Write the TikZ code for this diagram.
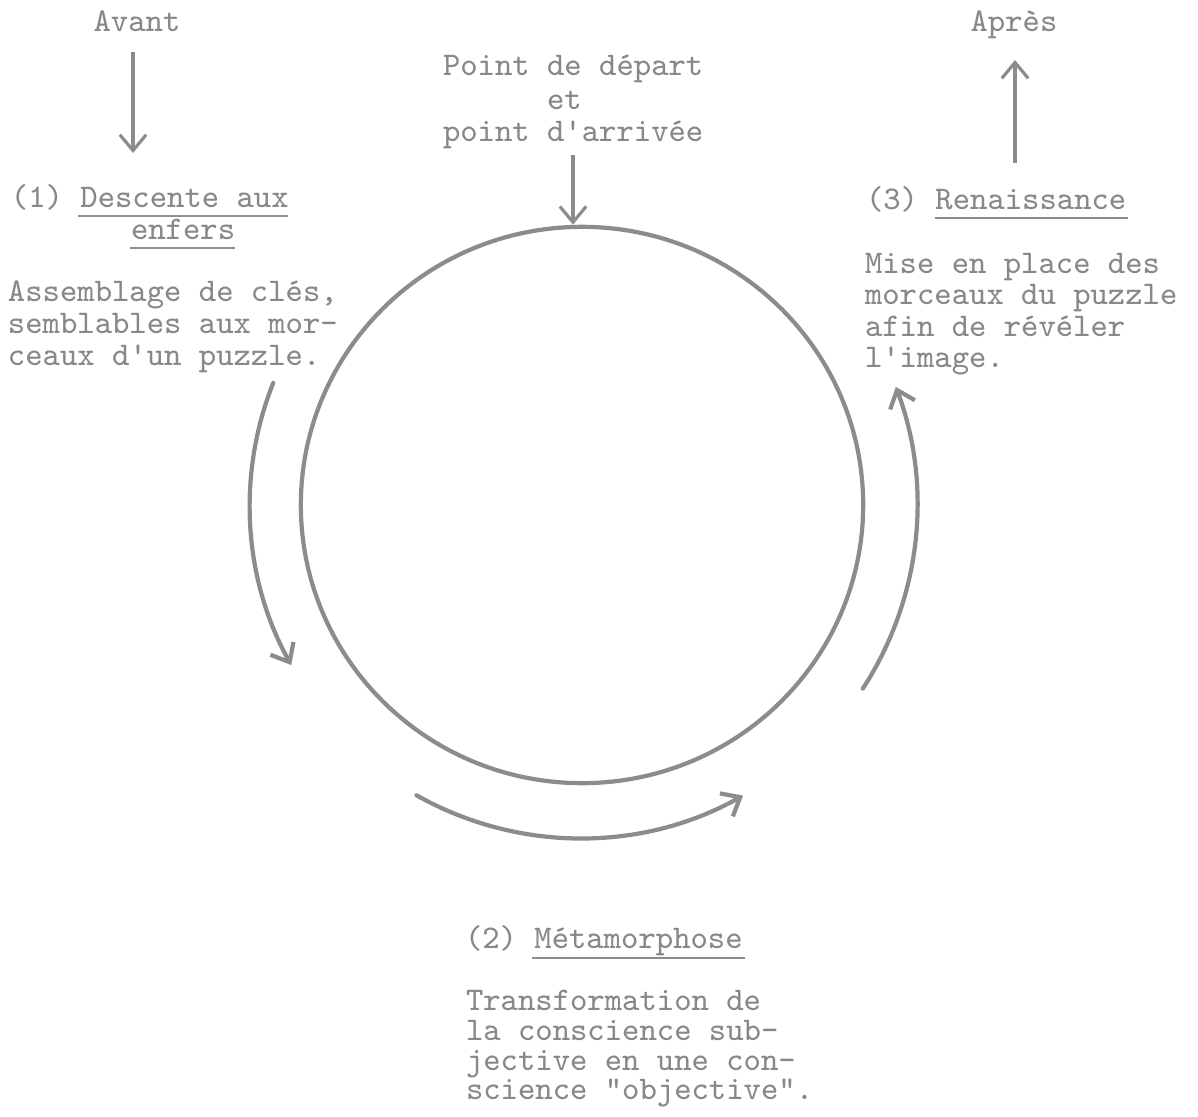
\documentclass[tikz,border=0pt]{standalone}
\usetikzlibrary{arrows.meta,shapes.geometric}
\definecolor{textgray}{HTML}{888888}
\definecolor{linegray}{HTML}{8C8C8C}
\begin{document}
\begin{tikzpicture}[x=0.01cm,y=-0.01cm,
  txt/.style={inner sep=0pt, outer sep=0pt, text=textgray, anchor=base west,
    font=\fontsize{9.4}{11}\selectfont\ttfamily},
  ctxt/.style={txt, anchor=base},
  uline/.style={draw=linegray, line width=0.6pt},
  straightarrow/.style={draw=linegray, line width=0.9pt, -{Straight Barb[length=4.5pt,width=7.5pt]}},
  arcarrow/.style={draw=linegray, line width=1.2pt, line cap=round, -{Straight Barb[length=4.5pt,width=7.5pt]}},
  ring/.style={draw=linegray, line width=1.2pt, ellipse, inner sep=0pt, minimum width=5.62cm, minimum height=5.56cm}
]
\useasboundingbox (0,0) rectangle (1198,1116);

% central circle
\coordinate (cc) at (580,505);
\node[ring] (circ) at (582,505) {};

% top labels
\node[ctxt] (avant) at (137,32) {Avant};
\node[ctxt] (apres) at (1014,32) {Apr\`es};
\coordinate (avantA) at (133,52);
\coordinate (avantB) at (133,153);
\draw[straightarrow] (avantA) -- (avantB);
\coordinate (apresA) at (1015,163);
\coordinate (apresB) at (1015,60);
\draw[straightarrow] (apresA) -- (apresB);

% point de depart
\node[txt] (pd1) at (443,76) {Point de d\'epart};
\node[txt] (pd2) at (547,110) {et};
\node[txt] (pd3) at (443,142) {point d\textquotesingle arriv\'ee};
\coordinate (pdA) at (573,155);
\draw[straightarrow] (pdA) -- (pdA |- circ.north);

% stage 1
\node[txt] (s1a) at (11,208) {(1) Descente aux};
\node[txt] (s1b) at (131,240) {enfers};
\draw[uline] (78,216) -- (288,216);
\draw[uline] (130,248) -- (235,248);
\node[txt] (d1a) at (8,302) {Assemblage de cl\'es,};
\node[txt] (d1b) at (8,334) {semblables aux mor-};
\node[txt] (d1c) at (8,366) {ceaux d\textquotesingle un puzzle.};

% stage 3
\node[txt] (s3) at (866,210) {(3) Renaissance};
\draw[uline] (935,218) -- (1128,218);
\node[txt] (d3a) at (865,274) {Mise en place des};
\node[txt] (d3b) at (865,305) {morceaux du puzzle};
\node[txt] (d3c) at (865,337) {afin de r\'ev\'eler};
\node[txt] (d3d) at (865,368) {l\textquotesingle image.};

% stage 2
\node[txt] (s2) at (465,948) {(2) M\'etamorphose};
\draw[uline] (532,958) -- (745,958);
\node[txt] (d2a) at (466,1010) {Transformation de};
\node[txt] (d2b) at (466,1040) {la conscience sub-};
\node[txt] (d2c) at (466,1070) {jective en une con-};
\node[txt] (d2d) at (466,1099) {science "objective".};

% circulating arcs
\draw[arcarrow] ([shift={(158.3:3.3cm)}]cc) arc[start angle=158.3, end angle=209, radius=3.3cm];
\draw[arcarrow] ([shift={(-119.4:3.33cm)}]cc) arc[start angle=-119.4, end angle=-60.7, radius=3.33cm];
\draw[arcarrow] ([shift={(-33:3.37cm)}]cc) arc[start angle=-33, end angle=20.5, radius=3.37cm];
\end{tikzpicture}
\end{document}
